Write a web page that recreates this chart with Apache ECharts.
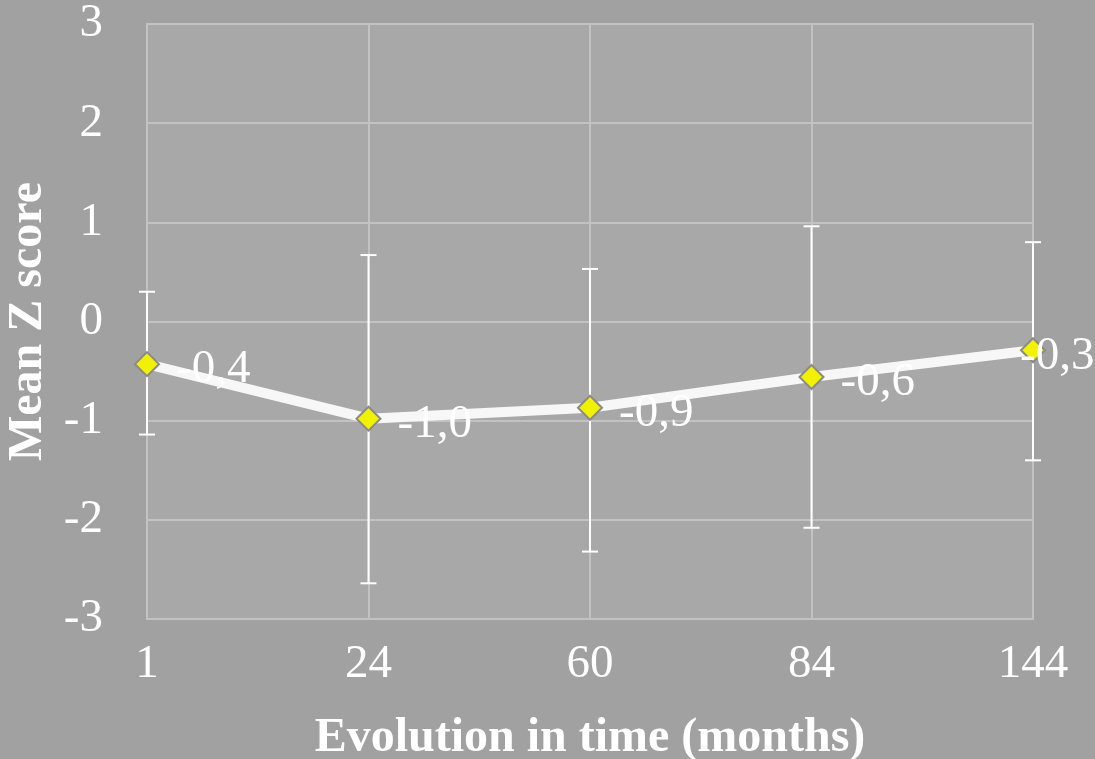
<!DOCTYPE html>
<html>
<head>
	<meta charset="UTF-8">
	<title>Mean Z score</title>
	<script src="https://cdn.jsdelivr.net/npm/echarts@6/dist/echarts.min.js"></script>
	<style>
		html, body { margin: 0; padding: 0; background: #a1a1a1; }
		#chart { width: 1095px; height: 759px; }
	</style>
</head>
<body>
	<div id="chart"></div>
	<script>
		var months = ['1', '24', '60', '84', '144'];
		var meanZ = [-0.43, -0.98, -0.87, -0.56, -0.29];
		var errLow = [-1.14, -2.64, -2.32, -2.08, -1.40];
		var errHigh = [0.30, 0.67, 0.53, 0.96, 0.80];
		var yTicks = [-3, -2, -1, 0, 1, 2, 3];

		var font = '"Liberation Serif", "Times New Roman", serif';
		var chart = echarts.init(document.getElementById('chart'), null, { renderer: 'canvas' });

		// last label sits over its marker, as in the original
		var lineData = meanZ.map(function (v, i) {
			if (i === meanZ.length - 1) {
				return { value: v, label: { offset: [-42, 6] } };
			}
			return v;
		});

		chart.setOption({
			backgroundColor: '#a1a1a1',
			animation: false,
			grid: {
				left: 147, right: 62, top: 24, bottom: 140,
				outerBoundsMode: 'none', containLabel: false,
				show: true, backgroundColor: '#a8a8a8', borderColor: '#c2c2c2', borderWidth: 2
			},
			xAxis: {
				type: 'category',
				data: months,
				boundaryGap: false,
				name: 'Evolution in time (months)',
				nameLocation: 'middle',
				nameGap: 96,
				nameTextStyle: { color: '#fff', fontFamily: font, fontWeight: 'bold', fontSize: 48 },
				axisLine: { show: false },
				axisTick: { show: false },
				axisLabel: { color: '#fff', fontFamily: font, fontSize: 47, margin: 22 },
				splitLine: { show: true, lineStyle: { color: '#c2c2c2', width: 2 } }
			},
			yAxis: {
				type: 'value',
				min: yTicks[0],
				max: yTicks[yTicks.length - 1],
				interval: 1,
				name: 'Mean Z score',
				nameLocation: 'middle',
				nameGap: 88,
				nameTextStyle: { color: '#fff', fontFamily: font, fontWeight: 'bold', fontSize: 48 },
				axisLine: { show: false },
				axisTick: { show: false },
				axisLabel: { color: '#fff', fontFamily: font, fontSize: 47, margin: 44 },
				splitLine: { show: true, lineStyle: { color: '#c2c2c2', width: 2 } }
			},
			series: [
				{
					type: 'custom',
					z: 1,
					data: months.map(function (m, i) { return [i, errLow[i], errHigh[i]]; }),
					renderItem: function (params, api) {
						var lo = api.coord([api.value(0), api.value(1)]);
						var hi = api.coord([api.value(0), api.value(2)]);
						var w = 8;
						var st = { stroke: '#ffffff', lineWidth: 2 };
						return {
							type: 'group',
							children: [
								{ type: 'line', shape: { x1: lo[0], y1: lo[1], x2: hi[0], y2: hi[1] }, style: st },
								{ type: 'line', shape: { x1: lo[0] - w, y1: lo[1], x2: lo[0] + w, y2: lo[1] }, style: st },
								{ type: 'line', shape: { x1: hi[0] - w, y1: hi[1], x2: hi[0] + w, y2: hi[1] }, style: st }
							]
						};
					}
				},
				{
					type: 'line',
					z: 3,
					data: lineData,
					symbol: 'diamond',
					symbolSize: 24,
					lineStyle: { color: '#f7f7f7', width: 10 },
					itemStyle: { color: '#f2f200', borderColor: '#8a8a8a', borderWidth: 2 },
					label: {
						show: true,
						position: 'right',
						distance: 16,
						offset: [0, 6],
						color: '#fff',
						fontFamily: font,
						fontSize: 47,
						formatter: function (p) { return p.value.toFixed(1).replace('.', ','); }
					}
				}
			]
		});
	</script>
</body>
</html>
